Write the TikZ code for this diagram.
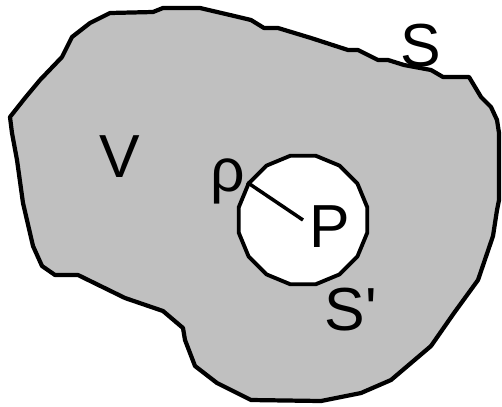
\documentclass[tikz,border=0pt]{standalone}
\usepackage{fontspec}
\newfontfamily\labelfont{Liberation Sans}
\usetikzlibrary{shapes.geometric}
\definecolor{regiongray}{RGB}{192,192,192}

\begin{document}
\begin{tikzpicture}[x=0.02cm, y=-0.02cm,
    blob/.style={draw, line width=2.4pt, line join=round, fill=regiongray},
    hole/.style={draw, line width=2.2pt, line join=round, fill=white, regular polygon, regular polygon sides=16, minimum size=2.62cm, inner sep=0pt},
    lbl/.style={anchor=base, inner sep=0pt, font=\labelfont\fontsize{34.6}{40}\selectfont}]
        \useasboundingbox (0,0) rectangle (502,406);
        \draw[blob] (110,13) -- (153,12) -- (163,8) -- (200,8) -- (230,15) -- (251,20) -- (264,28) -- (278,28)
            -- (311,38) -- (348,50) -- (358,50) -- (378,60) -- (388,60) -- (404,65) -- (431,70) -- (443,77)
            -- (469,77) -- (481,97) -- (491,107) -- (497,120) -- (499,133) -- (499,200) -- (497,210)
            -- (493,236) -- (478,280) -- (454,313) -- (431,346) -- (391,380) -- (361,393) -- (321,401)
            -- (251,400) -- (217,383) -- (195,366) -- (185,340) -- (183,328) -- (163,311) -- (125,298)
            -- (78,275) -- (55,275) -- (42,266) -- (33,246) -- (23,203) -- (17,160) -- (12,133) -- (10,117)
            -- (25,98) -- (40,80) -- (62,57) -- (72,37) -- (90,23) -- cycle;
        \node[hole] (hole) at (303,220) {};
        \coordinate (P) at (303,220);
        \coordinate (rim) at (hole.146);
        \draw[line width=2pt] (rim) -- (P);

        \node[lbl] (V) at (120,177) {V};
        \node[lbl] (S) at (421,66) {S};
        \node[lbl] (Plabel) at (330,247) {P};
        \node[lbl] (Sprime) at (351,330) {S'};
        \node[lbl] (rho) at (228,191) {ρ};
\end{tikzpicture}
\end{document}
